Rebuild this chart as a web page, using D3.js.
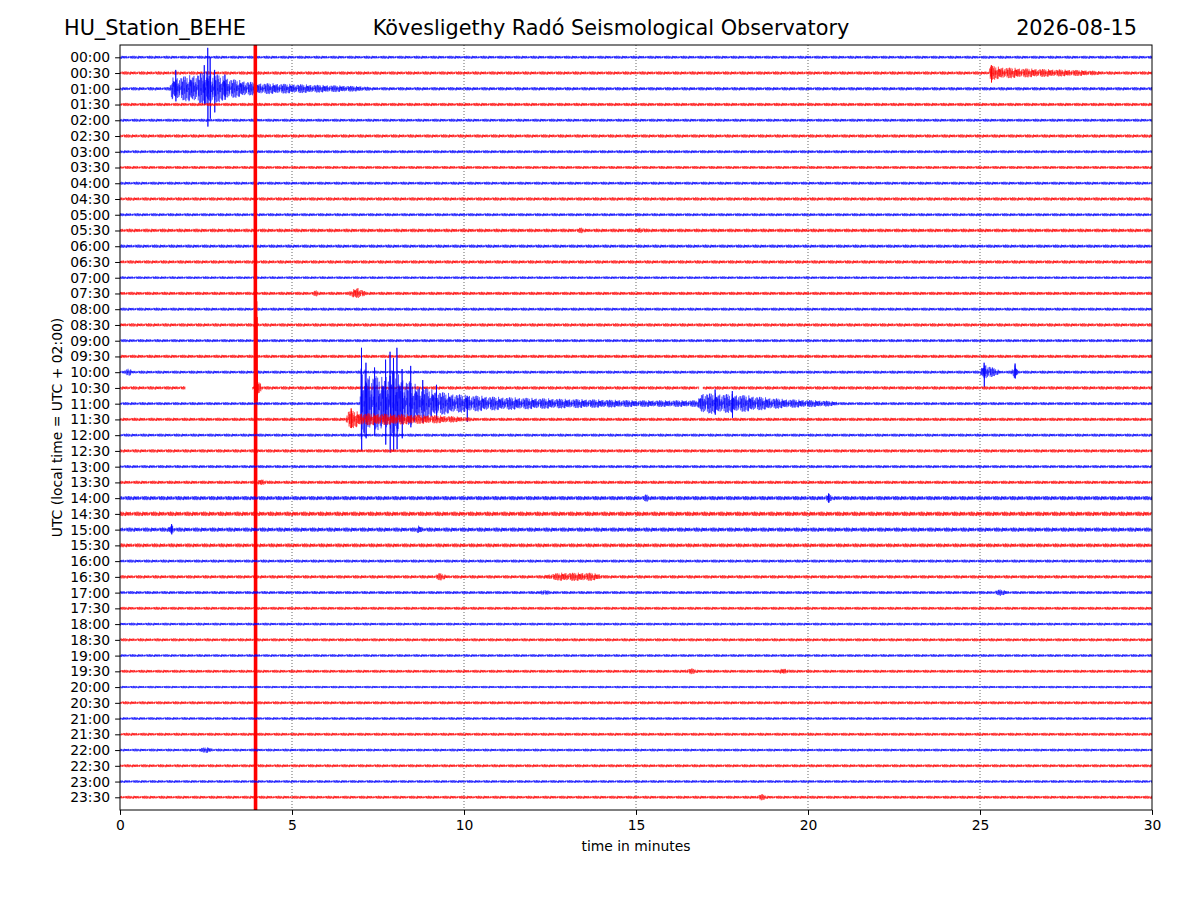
<!DOCTYPE html>
<html lang="en">
<head>
<meta charset="UTF-8">
<title>BEHE helicorder</title>
<script src="https://cdn.jsdelivr.net/npm/d3@7"></script>
<style>
body { margin: 0; background: #fff; }
svg text { font-family: "DejaVu Sans", sans-serif; fill: #000; }
.axis path, .axis line { stroke: #000; stroke-width: 1; }
.axis text { font-size: 13.9px; }
</style>
</head>
<body>
<div id="output"></div>
<script>

// --- data ---
var rowLabels = ["00:00","00:30","01:00","01:30","02:00","02:30","03:00","03:30",
    "04:00","04:30","05:00","05:30","06:00","06:30","07:00","07:30",
    "08:00","08:30","09:00","09:30","10:00","10:30","11:00","11:30",
    "12:00","12:30","13:00","13:30","14:00","14:30","15:00","15:30",
    "16:00","16:30","17:00","17:30","18:00","18:30","19:00","19:30",
    "20:00","20:30","21:00","21:30","22:00","22:30","23:00","23:30"];
var rowColors = ["blue", "red"];           // alternating trace colours
var xTicks = [0, 5, 10, 15, 20, 25, 30];   // minutes
var gridMinutes = [5, 10, 15, 20, 25];

// background noise per row (fraction of row spacing)
var noiseLevel = [0.10,0.11,0.11,0.11,0.10,0.11,0.10,0.10,
    0.10,0.11,0.10,0.12,0.11,0.11,0.09,0.11,
    0.10,0.11,0.10,0.11,0.10,0.11,0.10,0.11,
    0.10,0.11,0.10,0.11,0.14,0.15,0.14,0.13,
    0.10,0.11,0.10,0.10,0.09,0.10,0.09,0.10,
    0.08,0.10,0.09,0.10,0.09,0.10,0.09,0.10];

// event envelopes: row -> [minute, amplitude] knots
var envelopes = {
    1:  [[25.25,0],[25.3,0.38],[25.6,0.28],[26.2,0.2],[27,0.14],[28,0.08],[28.6,0]],
    2:  [[1.45,0],[1.5,0.6],[2.0,0.75],[2.5,1.0],[2.8,0.85],[3.2,0.55],[3.7,0.38],[4.0,0.27],[5,0.2],[6,0.13],[7,0.06],[7.3,0]],
    11: [[13.3,0],[13.4,0.08],[13.5,0],[15,0],[15.1,0.08],[15.3,0]],
    15: [[5.6,0],[5.7,0.1],[5.8,0],[6.65,0],[6.9,0.3],[7.15,0]],
    20: [[0.15,0],[0.25,0.2],[0.35,0],[25.0,0],[25.12,0.45],[25.35,0.22],[25.6,0],[25.9,0],[26.02,0.35],[26.12,0]],
    21: [[3.97,0],[4.02,0.4],[4.15,0]],
    22: [[6.98,0],[7.0,2.3],[7.3,1.8],[7.6,1.6],[7.9,2.1],[8.2,1.6],[8.6,1.15],[9.0,0.85],[9.5,0.6],[10.0,0.48],[11,0.34],[12,0.27],[13,0.21],[14,0.17],[15,0.12],[16.8,0.12],[16.9,0.6],[17.5,0.55],[18.2,0.45],[18.8,0.3],[19.3,0.2],[20.5,0.1],[21,0]],
    23: [[6.55,0],[6.65,0.5],[6.85,0.45],[7.0,0.3],[8,0.25],[9.3,0.15],[10.3,0]],
    27: [[4.0,0],[4.1,0.12],[4.3,0]],
    28: [[15.2,0],[15.3,0.12],[15.4,0],[20.5,0],[20.6,0.15],[20.7,0]],
    30: [[1.4,0],[1.5,0.2],[1.6,0],[8.6,0],[8.7,0.15],[8.8,0]],
    33: [[9.15,0],[9.3,0.15],[9.5,0],[12.3,0],[12.8,0.16],[13.7,0.16],[14.1,0]],
    34: [[12.2,0],[12.3,0.1],[12.5,0],[25.4,0],[25.6,0.12],[25.8,0]],
    39: [[16.4,0],[16.6,0.1],[16.8,0],[19.1,0],[19.3,0.1],[19.5,0]],
    44: [[2.3,0],[2.5,0.12],[2.7,0]],
    47: [[18.5,0],[18.65,0.12],[18.8,0]]
};

// single excursions: [row, minute, up, down]
var spikes = [
    [2, 2.55, 2.6, -2.4], [2, 2.62, 2.0, -1.9], [2, 2.45, 1.5, -1.0],
    [2, 1.62, 1.2, -0.8], [2, 2.75, 1.2, -1.5], [2, 3.05, 0.9, -0.7],
    [1, 25.33, 0.5, -0.6],
    [20, 25.12, 0.6, -0.95], [20, 26.02, 0.55, -0.4],
    [21, 3.90, 30, -30], [21, 3.91, 30, -30], [21, 3.92, 30, -30],
    [21, 3.93, 30, -30], [21, 3.94, 30, -30], [21, 3.95, 30, -30],
    [21, 3.96, 30, -30], [21, 3.97, 30, -30],
    [21, 3.975, 5.5, -1.0], [21, 3.985, 4.5, -0.8], [21, 3.995, 1.0, -0.4],
    [22, 7.02, 3.55, -3.0], [22, 7.15, 2.6, -2.2], [22, 7.4, 2.3, -2.0],
    [22, 7.72, 2.8, -2.6], [22, 7.85, 3.3, -3.1], [22, 7.95, 2.9, -3.0],
    [22, 8.05, 3.55, -2.9], [22, 8.2, 2.2, -2.2], [22, 8.45, 2.4, -1.5],
    [22, 8.8, 1.5, -1.2], [22, 9.2, 1.2, -1.0], [22, 10.09, 0.5, -1.15],
    [22, 17.3, 0.9, -0.7], [22, 17.8, 0.8, -0.9], [23, 6.72, 0.7, -0.55],
    [28, 20.6, 0.3, -0.3], [30, 1.5, 0.35, -0.3]
];

// gaps in a trace: [row, from, to]
var gaps = [[21, 1.9, 3.85], [21, 16.83, 16.95]];

// texture used to fill the trace between envelope values
var wiggle = [0.12,-0.45,0.78,-0.2,0.35,-0.9,0.55,-0.1,0.66,-0.72,0.05,0.41,-0.58,0.93,-0.33,0.18,
    -0.64,0.29,0.85,-0.47,0.02,-0.81,0.6,-0.26,0.44,-0.05,0.71,-0.95,0.38,-0.15,0.52,-0.68,
    0.24,0.9,-0.4,0.1,-0.55,0.76,-0.3,0.15,-0.87,0.48,-0.08,0.63,-0.5,0.31,-0.74,0.97,
    -0.22,0.07,-0.61,0.42,-0.36,0.82,-0.12,0.27,-0.92,0.58,-0.19,0.69,-0.43,0.04,-0.7,0.5,
    -0.28,0.88,-0.53,0.2,-0.03,0.74,-0.85,0.33,-0.6,0.13,0.57,-0.38,0.8,-0.16,0.46,-0.77,
    0.09,-0.49,0.67,-0.24,0.99,-0.66,0.21,-0.11,0.54,-0.83,0.36,-0.42,0.73,-0.07,0.26,-0.59,0.47];

function drawHelicorder(){

    var w = 1200, h = 900;
    var plotLeft = 120, plotRight = 1152, plotTop = 45, plotBottom = 810;

    var svg = d3.select("#output").append("svg")
        .attr("width", w).attr("height", h)
        .style("background-color", "#ffffff");

    var xScale = d3.scaleLinear().domain([0, 30]).range([plotLeft, plotRight]);
    var yScale = d3.scalePoint().domain(rowLabels).range([57.3, 797.3]);
    var spacing = yScale.step();
    var ampScale = d3.scaleLinear().domain([-1, 1]).range([spacing, -spacing]);

    svg.append("defs").append("clipPath").attr("id", "plotClip")
        .append("rect").attr("x", plotLeft).attr("y", plotTop)
        .attr("width", plotRight - plotLeft).attr("height", plotBottom - plotTop);

    // dotted grid
    svg.append("g").selectAll("line").data(gridMinutes).enter().append("line")
        .attr("x1", function(d){ return xScale(d); })
        .attr("x2", function(d){ return xScale(d); })
        .attr("y1", plotTop).attr("y2", plotBottom)
        .attr("stroke", "#000").attr("stroke-width", 0.6)
        .attr("stroke-dasharray", "1,2");

    var traceLayer = svg.append("g").attr("clip-path", "url(#plotClip)");

    var nSamples = 6000;
    var dt = 30 / nSamples;

    var line = d3.line()
        .defined(function(d){ return d[2]; })
        .x(function(d){ return xScale(d[0]); })
        .y(function(d){ return d[1]; });

    rowLabels.forEach(function(label, r){
        var y0 = yScale(label);
        var env = envelopes[r];
        var envScale = null;
        if (env) {
            envScale = d3.scaleLinear()
                .domain(env.map(function(k){ return k[0]; }))
                .range(env.map(function(k){ return k[1]; }))
                .clamp(true);
        }
        var rowGaps = gaps.filter(function(g){ return g[0] === r; });
        var pts = [];
        for (var i = 0; i <= nSamples; i++) {
            var t = i * dt;
            var amp = noiseLevel[r];
            if (envScale && t >= env[0][0] && t <= env[env.length - 1][0]) amp += envScale(t);
            var v = wiggle[(i * 7 + r * 31) % wiggle.length];
            var inGap = rowGaps.some(function(g){ return t > g[1] && t < g[2]; });
            pts.push([t, y0 + ampScale(v * amp), !inGap]);
        }
        var color = rowColors[r % 2];
        traceLayer.append("path")
            .attr("d", line(pts))
            .attr("fill", "none")
            .attr("stroke", color)
            .attr("stroke-width", 0.5)
            .attr("stroke-opacity", 0.85);

        spikes.filter(function(s){ return s[0] === r; }).forEach(function(s){
            traceLayer.append("path")
                .attr("d", line([[s[1], y0, true], [s[1], y0 + ampScale(s[2]), true],
                                 [s[1] + dt, y0 + ampScale(s[3]), true], [s[1] + 2 * dt, y0, true]]))
                .attr("fill", "none")
                .attr("stroke", color)
                .attr("stroke-width", 0.8);
        });
    });

    // axes
    var yAxis = svg.append("g").attr("class", "axis")
        .attr("transform", "translate(" + plotLeft + ",0)")
        .call(d3.axisLeft(yScale).tickSize(4.9).tickPadding(4.9));
    yAxis.select(".domain").remove();

    var xAxis = svg.append("g").attr("class", "axis")
        .attr("transform", "translate(0," + plotBottom + ")")
        .call(d3.axisBottom(xScale).tickValues(xTicks).tickSize(4.9).tickPadding(4.9)
            .tickFormat(d3.format("d")));
    xAxis.select(".domain").remove();

    svg.append("rect")
        .attr("x", plotLeft).attr("y", plotTop)
        .attr("width", plotRight - plotLeft).attr("height", plotBottom - plotTop)
        .attr("fill", "none").attr("stroke", "#000").attr("stroke-width", 1);

    // labels
    svg.append("text").attr("x", (plotLeft + plotRight) / 2).attr("y", 851)
        .attr("text-anchor", "middle").style("font-size", "13.9px")
        .text("time in minutes");

    svg.append("text")
        .attr("transform", "translate(62," + ((plotTop + plotBottom) / 2) + ") rotate(-90)")
        .attr("text-anchor", "middle").style("font-size", "13.9px")
        .text("UTC (local time = UTC + 02:00)");

    svg.append("text").attr("x", 64).attr("y", 35)
        .style("font-size", "20.8px").text("HU_Station_BEHE");
    svg.append("text").attr("x", 611).attr("y", 35).attr("text-anchor", "middle")
        .style("font-size", "20.8px").text("Kövesligethy Radó Seismological Observatory");
    svg.append("text").attr("x", 1137).attr("y", 35).attr("text-anchor", "end")
        .style("font-size", "20.8px").text("2026-08-15");
}

drawHelicorder();

</script>
</body>
</html>
